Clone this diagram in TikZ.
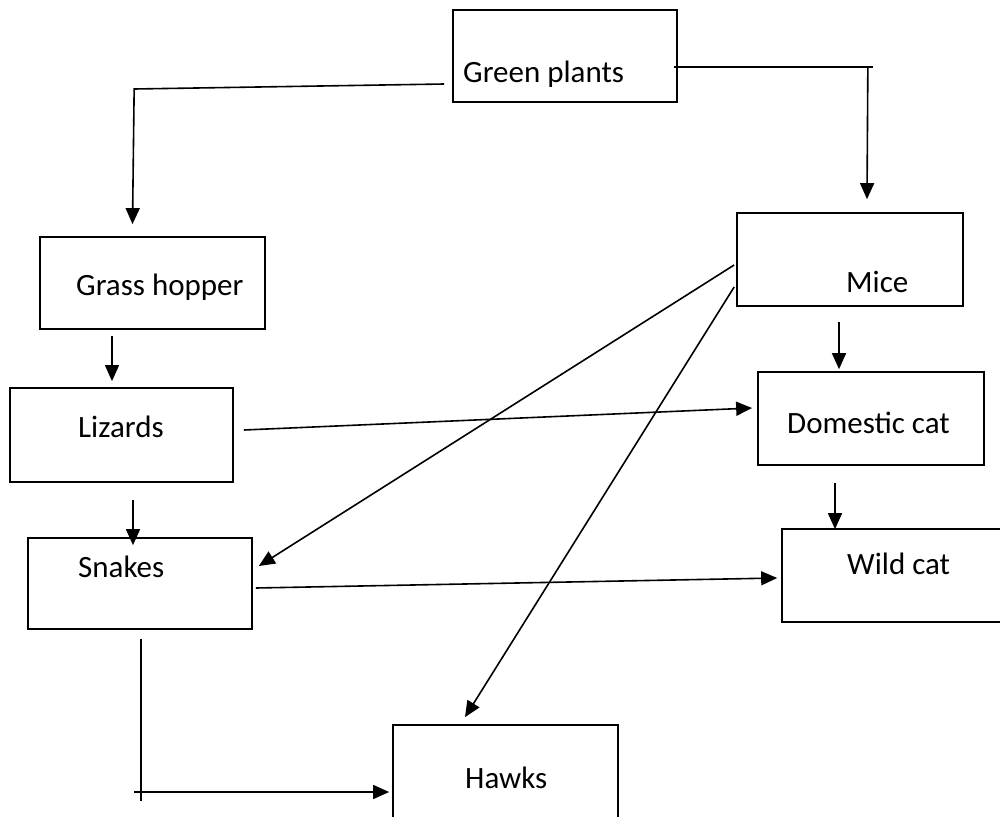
\documentclass[tikz,border=0pt]{standalone}
\usepackage{fontspec}
\setmainfont{Carlito}
\usetikzlibrary{arrows.meta,calc}
\tikzset{
  boxnode/.style={draw, line width=1.7pt, rectangle, inner sep=0pt},
  lbl/.style={anchor=base west, inner sep=0pt, font=\fontsize{31}{37}\selectfont},
  link/.style={line width=1.6pt},
  arr/.style={line width=1.6pt, -{Triangle[length=16pt,width=14pt]}}
}
\begin{document}
\begin{tikzpicture}[x=1pt,y=-1pt]
\useasboundingbox (0,0) rectangle (1000,816);
\clip (0,0) rectangle (1000,816);
% boxes
\node[boxnode, minimum width=224pt, minimum height=92pt] (gp) at (565,56) {};
\node[boxnode, minimum width=225pt, minimum height=92pt] (gh) at (152.5,283) {};
\node[boxnode, minimum width=226pt, minimum height=93pt] (mice) at (850,259.5) {};
\node[boxnode, minimum width=223pt, minimum height=94pt] (liz) at (121.5,435) {};
\node[boxnode, minimum width=226pt, minimum height=93pt] (dom) at (871,418.5) {};
\node[boxnode, minimum width=224pt, minimum height=91pt] (snk) at (140,583.5) {};
\node[boxnode, minimum width=220pt, minimum height=93pt] (wild) at (892,575.5) {};
\node[boxnode, minimum width=225pt, minimum height=95pt] (hawks) at (505.5,772.5) {};
% labels
\node[lbl] (tgp) at (463,82) {Green plants};
\node[lbl] (tgh) at (76,295) {Grass hopper};
\node[lbl] (tmice) at (846,292) {Mice};
\node[lbl] (tliz) at (78,437) {Lizards};
\node[lbl] (tdom) at (787,433) {Domestic cat};
\node[lbl] (tsnk) at (78,577) {Snakes};
\node[lbl] (twild) at (847,574) {Wild cat};
\node[lbl] (thawks) at (465,788) {Hawks};
% connectors
\draw[arr] ($(gp.west)+(-8,28)$) -- ++(-310,5) -- ($(gh.north)+(-20,-12)$);
\draw[link] ($(gp.east)+(-4,11)$) -- ++(199,0);
\draw[arr] ($(gp.east)+(190,11)$) -- ($(mice.north)+(17,-13)$);
\draw[arr] ($(gh.south)+(-40.5,6)$) -- ($(liz.north)+(-9.5,-6)$);
\draw[arr] ($(liz.east)+(10,-5)$) -- ($(dom.west)+(-5,-10.5)$);
\draw[arr] ($(mice.south)+(-11,15)$) -- ($(dom.north)+(-32,-2)$);
\draw[arr] ($(dom.south)+(-36,17)$) -- ($(wild.north)+(-57,1)$);
\draw[arr] ($(liz.south)+(11.5,17)$) -- ($(snk.north)+(-7,8)$);
\draw[arr] ($(mice.west)+(-2,5.5)$) -- ($(snk.east)+(6,-17.5)$);
\draw[arr] ($(mice.west)+(-2,27.5)$) -- ($(hawks.north)+(-40.5,-7)$);
\draw[arr] ($(snk.east)+(3,4.5)$) -- ($(wild.west)+(-4,2.5)$);
\draw[link] ($(snk.south)+(1,9)$) -- ++(0,162);
\draw[arr] ($(hawks.west)+(-258,19.5)$) -- ($(hawks.west)+(-3,19.5)$);
\end{tikzpicture}
\end{document}
